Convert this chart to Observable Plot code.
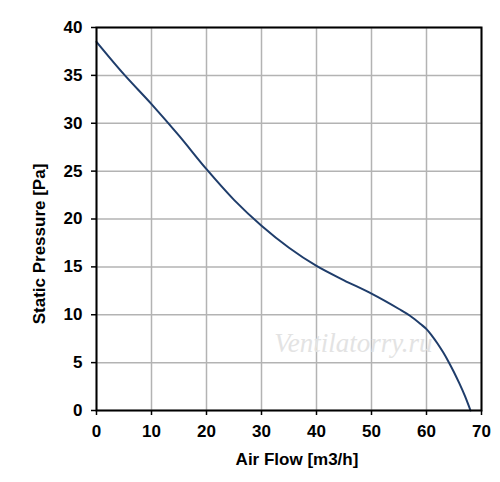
<!DOCTYPE html>
<html>
<head>
<meta charset="utf-8">
<script src="https://cdn.jsdelivr.net/npm/d3@7"></script>
<script src="https://cdn.jsdelivr.net/npm/@observablehq/plot@0.6"></script>
<style>
  html, body { margin: 0; padding: 0; background: #fff; }
  #chart svg { display: block; }
  #chart svg g[aria-label^="x-axis"] text,
  #chart svg g[aria-label^="y-axis"] text { font-weight: 700 !important; }
</style>
</head>
<body>
<div id="chart"></div>
<script>
const flow = [0, 5, 10, 15, 20, 25, 30, 35, 40, 45, 50, 55, 57, 59, 60, 61, 62, 63, 64, 65, 66, 67, 68];
const pressure = [38.5, 35.1, 32.0, 28.7, 25.2, 22.0, 19.3, 17.0, 15.1, 13.6, 12.2, 10.6, 9.9, 9.0, 8.5, 7.8, 7.0, 6.1, 5.1, 4.0, 2.8, 1.5, 0];
const xTicks = [0, 10, 20, 30, 40, 50, 60, 70];
const yTicks = [0, 5, 10, 15, 20, 25, 30, 35, 40];
const xLabel = "Air Flow [m3/h]";
const yLabel = "Static Pressure [Pa]";
const watermark = "Ventilatorry.ru";

const data = flow.map((f, i) => ({flow: f, pressure: pressure[i]}));

const chart = Plot.plot({
  width: 500,
  height: 482,
  marginLeft: 96,
  marginRight: 19,
  marginTop: 27,
  marginBottom: 72,
  style: {fontFamily: "'Liberation Sans', Arial, sans-serif", fontSize: "17px", fontWeight: "bold", color: "#000", background: "#fff"},
  x: {domain: [0, 70], ticks: xTicks},
  y: {domain: [0, 40], ticks: yTicks},
  marks: [
    Plot.gridX(xTicks, {stroke: "#b3b3b3", strokeOpacity: 1, strokeWidth: 1.5}),
    Plot.gridY(yTicks, {stroke: "#b3b3b3", strokeOpacity: 1, strokeWidth: 1.5}),
    Plot.text([watermark], {frameAnchor: "bottom-right", textAnchor: "end", lineAnchor: "bottom", dx: -49, dy: -59, fill: "#e3e3e3", fontSize: 27, fontStyle: "italic", fontWeight: "normal", fontFamily: "'Liberation Serif', 'DejaVu Serif', serif"}),
    Plot.line(data, {x: "flow", y: "pressure", stroke: "#1f3d6b", strokeWidth: 2, curve: "catmull-rom"}),
    Plot.frame({stroke: "#000", strokeWidth: 2}),
    Plot.axisX(xTicks, {tickSize: 5, tickPadding: 9, stroke: "#000", strokeWidth: 1.5, fontWeight: "bold", fontSize: 17, label: null}),
    Plot.axisY(yTicks, {tickSize: 5, tickPadding: 9, stroke: "#000", strokeWidth: 1.5, fontWeight: "bold", fontSize: 17, label: null}),
    Plot.text([xLabel], {frameAnchor: "bottom", textAnchor: "middle", lineAnchor: "middle", dx: 8, dy: 49, fontSize: 17, fontWeight: "bold", fill: "#000"}),
    Plot.text([yLabel], {frameAnchor: "left", textAnchor: "middle", lineAnchor: "middle", rotate: -90, dx: -57, dy: 25, fontSize: 17, fontWeight: "bold", fill: "#000"})
  ]
});
document.getElementById("chart").appendChild(chart);
</script>
</body>
</html>
